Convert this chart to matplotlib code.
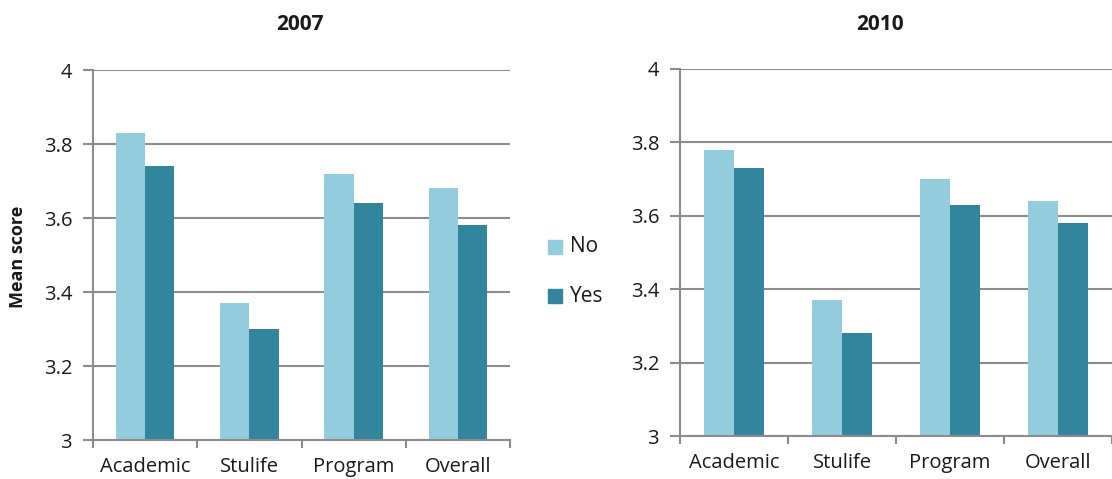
import matplotlib
matplotlib.use("Agg")
import matplotlib.pyplot as plt
import numpy as np

categories = ["Academic", "Stulife", "Program", "Overall"]
years = ["2007", "2010"]
no_2007 = [3.83, 3.37, 3.72, 3.68]
yes_2007 = [3.74, 3.30, 3.64, 3.58]
no_2010 = [3.78, 3.37, 3.70, 3.64]
yes_2010 = [3.73, 3.28, 3.63, 3.58]
y_ticks = [3, 3.2, 3.4, 3.6, 3.8, 4]
y_tick_labels = ["3", "3.2", "3.4", "3.6", "3.8", "4"]
series_names = ["No", "Yes"]

plt.rcParams["font.family"] = ["Open Sans", "DejaVu Sans"]

C_NO = "#93CDDD"
C_YES = "#31859C"
GRID = "#8C8C8C"
TXT = "#1A1A1A"

fig = plt.figure(figsize=(11.12, 4.79), dpi=100)
ax1 = fig.add_axes([93 / 1112, 1 - 440 / 479, 417 / 1112, 370 / 479])
ax2 = fig.add_axes([680 / 1112, 1 - 436 / 479, 432 / 1112, 367 / 479])

x = np.arange(len(categories))
w = 0.28


def draw(ax, no_vals, yes_vals):
    ax.bar(x - w / 2, np.array(no_vals) - 3, width=w, bottom=3, color=C_NO, zorder=3)
    ax.bar(x + w / 2, np.array(yes_vals) - 3, width=w, bottom=3, color=C_YES, zorder=3)
    ax.set_ylim(3, 4)
    ax.set_xlim(-0.5, len(categories) - 0.5)
    ax.set_yticks(y_ticks)
    ax.set_yticklabels(y_tick_labels, fontsize=14.5, color=TXT)
    ax.set_xticks(np.arange(len(categories) + 1) - 0.5)
    ax.set_xticklabels([])
    ax.set_xticks(x, minor=True)
    ax.set_xticklabels(categories, minor=True, fontsize=14.5, color=TXT)
    ax.tick_params(axis="x", which="major", length=6, width=1.5, color=GRID, direction="out")
    ax.tick_params(axis="x", which="minor", length=0, pad=12)
    ax.tick_params(axis="y", length=7, width=1.5, color=GRID, pad=8)
    ax.yaxis.grid(True, color=GRID, linewidth=1.5, zorder=0)
    for s in ["top", "right"]:
        ax.spines[s].set_visible(False)
    for s in ["left", "bottom"]:
        ax.spines[s].set_color(GRID)
        ax.spines[s].set_linewidth(1.5)
        ax.spines[s].set_zorder(4)


draw(ax1, no_2007, yes_2007)
draw(ax2, no_2010, yes_2010)

fig.text(300 / 1112, 1 - 24 / 479, years[0], ha="center", va="center",
         fontsize=15, fontweight="bold", color=TXT)
fig.text(880 / 1112, 1 - 24 / 479, years[1], ha="center", va="center",
         fontsize=15, fontweight="bold", color=TXT)
fig.text(18 / 1112, 1 - 257 / 479, "Mean score", rotation=90, ha="center", va="center",
         fontsize=13, fontweight="bold", color=TXT)

# legend
for i, (name, col) in enumerate(zip(series_names, [C_NO, C_YES])):
    yc = 1 - (247 + i * 49) / 479
    fig.patches.append(plt.Rectangle((548 / 1112, yc - 7 / 479), 14 / 1112, 14 / 479,
                                     transform=fig.transFigure, color=col))
    fig.text(570 / 1112, yc, name, ha="left", va="center", fontsize=15, color=TXT)

fig.savefig("out.png", dpi=100)
